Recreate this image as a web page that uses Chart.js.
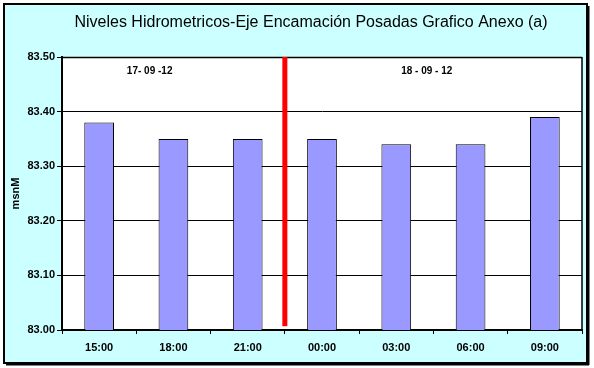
<!DOCTYPE html>
<html><head><meta charset="utf-8">
<script src="https://cdn.jsdelivr.net/npm/chart.js@4/dist/chart.umd.min.js"></script>
<style>html,body{margin:0;padding:0;background:#fff}#wrap{width:594px;height:368px}</style>
</head><body><div id="wrap"><canvas id="c" width="594" height="368"></canvas></div>
<script>
const categories = ["15:00","18:00","21:00","00:00","03:00","06:00","09:00"];
const levels = [83.38, 83.35, 83.35, 83.35, 83.34, 83.34, 83.39];
const yTicks = [83.00, 83.10, 83.20, 83.30, 83.40, 83.50];
const dateLabels = ["17- 09 -12", "18 - 09 - 12"];
const dateLabelPos = [0.68, 4.41];
const separatorPos = 2.5;
const separatorBottom = 83.007;
const chartTitle = 'Niveles Hidrometricos-Eje Encamación Posadas Grafico Anexo (a)';

const frame = {
  id: 'frame',
  beforeDraw(chart) {
    const ctx = chart.ctx, a = chart.chartArea;
    ctx.save();
    ctx.fillStyle = '#fff';
    ctx.fillRect(0, 0, 594, 368);
    ctx.fillStyle = '#CCFFFF';
    ctx.fillRect(4, 4, 583, 359);
    ctx.strokeStyle = '#000';
    ctx.lineWidth = 2;
    ctx.strokeRect(4, 4, 583, 359);
    ctx.fillStyle = '#000';
    ctx.fillRect(588, 6, 1.5, 359);
    ctx.fillRect(6, 364, 583, 1.5);
    ctx.fillStyle = '#fff';
    ctx.fillRect(a.left, a.top, a.right - a.left, a.bottom - a.top);
    ctx.fillStyle = '#000';
    ctx.font = '16px "Liberation Sans", Arial, sans-serif';
    ctx.textAlign = 'center';
    ctx.textBaseline = 'middle';
    ctx.fillText(chartTitle, 311, 23);
    ctx.restore();
  },
  afterDatasetsDraw(chart) {
    const ctx = chart.ctx, a = chart.chartArea, x = chart.scales.x, y = chart.scales.y;
    ctx.save();
    ctx.strokeStyle = '#000';
    ctx.lineWidth = 1.5;
    ctx.beginPath();
    ctx.moveTo(a.left, a.top + 0.5); ctx.lineTo(a.right, a.top + 0.5);
    ctx.moveTo(a.right, a.top); ctx.lineTo(a.right, a.bottom);
    ctx.stroke();
    const sx = x.getPixelForValue(separatorPos);
    ctx.fillStyle = '#FF0000';
    ctx.fillRect(sx - 2.5, a.top, 5, y.getPixelForValue(separatorBottom) - a.top);
    ctx.fillStyle = '#000';
    ctx.font = 'bold 10px "Liberation Sans", Arial, sans-serif';
    ctx.textAlign = 'center';
    ctx.textBaseline = 'middle';
    dateLabels.forEach((t, i) => ctx.fillText(t, x.getPixelForValue(dateLabelPos[i]), a.top + 14));
    ctx.restore();
  }
};

new Chart(document.getElementById('c'), {
  type: 'bar',
  data: {
    labels: categories,
    datasets: [{
      data: levels,
      backgroundColor: '#9999FF',
      borderColor: '#000',
      borderWidth: 1,
      borderSkipped: 'bottom',
      barPercentage: 0.4,
      categoryPercentage: 1.0
    }]
  },
  plugins: [frame],
  options: {
    responsive: false,
    animation: false,
    devicePixelRatio: 1,
    layout: { padding: { left: 0, right: 12, top: 57, bottom: 0 } },
    plugins: {
      legend: { display: false },
      tooltip: { enabled: false },
      title: { display: false }
    },
    scales: {
      x: {
        offset: true,
        grid: { offset: true, drawOnChartArea: false, drawTicks: true, tickLength: 4, color: '#000', tickColor: '#000' },
        border: { display: true, color: '#000', width: 2 },
        ticks: { color: '#000', padding: 7, font: { family: '"Liberation Sans", Arial, sans-serif', size: 11, weight: 'bold' } },
        afterFit(s) { s.height = 38; }
      },
      y: {
        min: 83.0, max: 83.5,
        afterBuildTicks(s) { s.ticks = yTicks.map(v => ({ value: v })); },
        grid: { color: '#000', lineWidth: 1, tickLength: 5, tickColor: '#000' },
        border: { display: true, color: '#000', width: 2 },
        ticks: { color: '#000', padding: 2, font: { family: '"Liberation Sans", Arial, sans-serif', size: 11, weight: 'bold' },
          callback: v => Number(v).toFixed(2) },
        title: { display: true, text: 'msnM', color: '#000', padding: { top: 9, bottom: 0 },
          font: { family: '"Liberation Sans", Arial, sans-serif', size: 11, weight: 'bold' } },
        afterFit(s) { s.width = 62; }
      }
    }
  }
});
</script></body></html>
